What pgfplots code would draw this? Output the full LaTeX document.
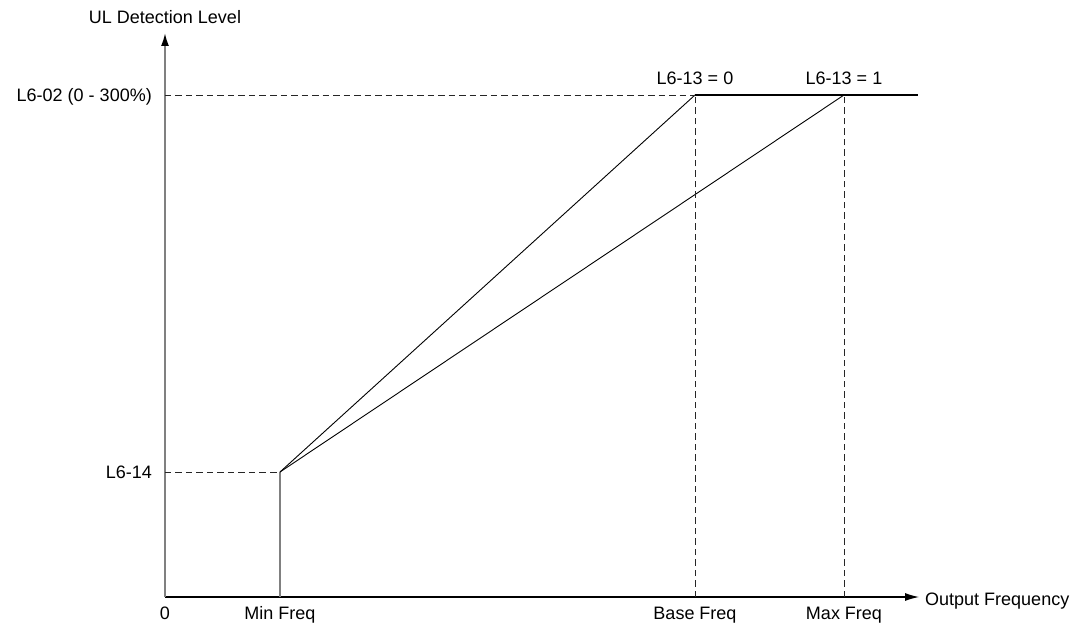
\documentclass[border=0pt]{standalone}
\usepackage{pgfplots}
\pgfplotsset{compat=1.18}
\usepackage{fontspec}
\setmainfont{Liberation Sans}
\usetikzlibrary{arrows.meta}
\begin{document}
\begin{tikzpicture}
\useasboundingbox (-165pt,-25pt) rectangle (908pt,597pt);
\begin{axis}[
  at={(0pt,0pt)}, anchor=south west,
  x=1pt, y=1pt,
  xmin=0, xmax=754, ymin=0, ymax=564,
  axis lines=left,
  x axis line style={black, line width=1.1pt, -{Latex[length=14pt,width=8pt,black]}},
  y axis line style={gray, line width=1.8pt, -{Latex[length=13pt,width=8pt,black]}},
  clip=false,
  font=\fontsize{18}{21}\selectfont,
  /pgf/number format/assume math mode=true,
  major tick length=0pt,
  xtick={0,115,530,679},
  xticklabels={0, Min Freq, Base Freq, Max Freq},
  ytick={125,502},
  yticklabels={L6-14, L6-02 (0 - 300\%)},
  xticklabel style={anchor=base, yshift=-22pt, inner sep=0pt},
  yticklabel style={anchor=base east, xshift=-13pt, yshift=-6.5pt, inner sep=0pt},
]
\addplot[gray, line width=1.8pt] coordinates {(115,0) (115,125)};
\addplot[black, line width=0.9pt] coordinates {(115,125) (530,502)};
\addplot[black, line width=0.9pt] coordinates {(115,125) (679,502)};
\addplot[black, line width=1.2pt] coordinates {(530,502) (753,502)};
\addplot[black!85, line width=0.9pt, dash pattern=on 6.5pt off 4pt] coordinates {(0,502) (530,502)};
\addplot[black!85, line width=0.9pt, dash pattern=on 6.5pt off 4pt] coordinates {(0,125) (115,125)};
\addplot[black!85, line width=0.9pt, dash pattern=on 6.5pt off 4pt] coordinates {(530,0) (530,502)};
\addplot[black!85, line width=0.9pt, dash pattern=on 6.5pt off 4pt] coordinates {(679,0) (679,502)};
\node[anchor=base west, inner sep=0pt] at (axis cs:760,-8) {Output Frequency};
\node[anchor=base, inner sep=0pt] at (axis cs:0,573) {UL Detection Level};
\node[anchor=base, inner sep=0pt] at (axis cs:530,512) {L6-13 = 0};
\node[anchor=base, inner sep=0pt] at (axis cs:679,512) {L6-13 = 1};
\end{axis}
\end{tikzpicture}
\end{document}
